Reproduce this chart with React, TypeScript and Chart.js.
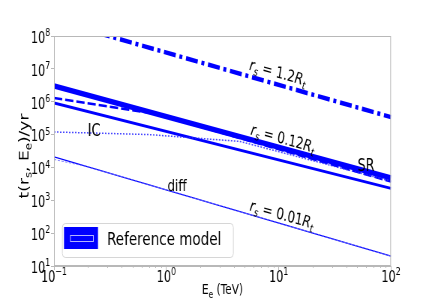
import React, { useEffect, useRef } from 'react';
import { Chart, registerables } from 'chart.js';

Chart.register(...registerables);

// ---------- data (energy in TeV, time in yr) ----------
const rs12Energy = [0.1, 100];
const rs12Time = [3.0e8, 3.4e5];

const srThickEnergy = [0.1, 100];
const srThickTime = [3.0e6, 4.8e3];

const dashedEnergy = [0.1, 0.8, 100];
const dashedTime = [1.3e6, 4.3e5, 3.7e3];

const lowerEnergy = [0.1, 100];
const lowerTime = [9.1e5, 2.3e3];

const icEnergy = [0.1, 0.7, 4.5, 100];
const icTime = [1.2e5, 1.0e5, 6.2e4, 3.8e3];

const diffEnergy = [0.1, 100];
const diffTime = [2.1e4, 20];

const diff2Energy = [0.1, 0.2, 100];
const diff2Time = [1.75e4, 1.05e4, 20];

const xTickValues = [0.1, 1, 10, 100];
const xTickExponents = ['−1', '0', '1', '2'];
const yTickValues = [1e1, 1e2, 1e3, 1e4, 1e5, 1e6, 1e7, 1e8];
const yTickExponents = ['1', '2', '3', '4', '5', '6', '7', '8'];

const legendLabel = 'Reference model';

// ---------- layout ----------
const SX = 0.75; // horizontal squeeze of the reference image
const W = 436;
const H = 300;
const CW = Math.round(W / SX);
const AREA_LEFT = 54 / SX;
const AREA_RIGHT = 391 / SX;
const AREA_TOP = 36;
const AREA_BOTTOM = 266;
const FRAME = '#b8b8b8';
const BLUE = '#0000ff';
const FONT = '"DejaVu Sans", sans-serif';

type Part = { t: string; sub?: boolean; sup?: boolean; it?: boolean };

function drawRich(
  ctx: CanvasRenderingContext2D,
  parts: Part[],
  x: number,
  y: number,
  size: number,
  rot = 0,
  align: 'center' | 'left' | 'right' = 'center'
) {
  ctx.save();
  ctx.translate(x, y);
  ctx.rotate(rot);
  const fontOf = (p: Part) =>
    `${p.it ? 'italic ' : ''}${p.sub || p.sup ? size * 0.7 : size}px ${FONT}`;
  const widths = parts.map((p) => {
    ctx.font = fontOf(p);
    return ctx.measureText(p.t).width;
  });
  const total = widths.reduce((a, b) => a + b, 0);
  let cx = align === 'center' ? -total / 2 : align === 'right' ? -total : 0;
  ctx.fillStyle = '#000';
  ctx.textBaseline = 'alphabetic';
  ctx.textAlign = 'left';
  parts.forEach((p, i) => {
    ctx.font = fontOf(p);
    const dy = p.sub ? size * 0.25 : p.sup ? -size * 0.45 : 0;
    ctx.fillText(p.t, cx, size * 0.36 + dy);
    cx += widths[i];
  });
  ctx.restore();
}

const pairs = (xs: number[], ys: number[]) => xs.map((x, i) => ({ x, y: ys[i] }));

const overlay = {
  id: 'overlay',
  afterDraw(chart: any) {
    const ctx: CanvasRenderingContext2D = chart.ctx;
    const { left, right, top, bottom } = chart.chartArea;
    const xs = chart.scales.x;
    const ys = chart.scales.y;
    // frame
    ctx.save();
    ctx.strokeStyle = FRAME;
    ctx.lineWidth = 1;
    ctx.strokeRect(left + 0.5, top + 0.5, right - left - 1, bottom - top - 1);
    // minor ticks on x axis
    for (let d = -1; d <= 1; d++) {
      for (let k = 2; k <= 9; k++) {
        const px = Math.round(xs.getPixelForValue(k * Math.pow(10, d))) + 0.5;
        ctx.beginPath();
        ctx.moveTo(px, bottom);
        ctx.lineTo(px, bottom + 2);
        ctx.stroke();
      }
    }
    ctx.restore();

    // tick labels (10 with superscript exponent), placed by the scales
    xs.ticks.forEach((tk: any, i: number) => {
      const px = xs.getPixelForValue(tk.value);
      drawRich(ctx, [{ t: '10' }, { t: xTickExponents[i], sup: true }], px, 276.5, 15);
    });
    ys.ticks.forEach((tk: any, i: number) => {
      const py = ys.getPixelForValue(tk.value);
      drawRich(ctx, [{ t: '10' }, { t: yTickExponents[i], sup: true }], left - 5, py + 1.5, 15, 0, 'right');
    });

    const rot = (12 * Math.PI) / 180;
    // curve annotations
    drawRich(ctx, [
      { t: 'r', it: true }, { t: 's', it: true, sub: true }, { t: ' = 1.2' }, { t: 'R', it: true }, { t: 't', it: true, sub: true },
    ], 278 / SX, 72, 16, rot);
    drawRich(ctx, [
      { t: 'r', it: true }, { t: 's', it: true, sub: true }, { t: ' = 0.12' }, { t: 'R', it: true }, { t: 't', it: true, sub: true },
    ], 283 / SX, 138, 16, rot);
    drawRich(ctx, [
      { t: 'r', it: true }, { t: 's', it: true, sub: true }, { t: ' = 0.01' }, { t: 'R', it: true }, { t: 't', it: true, sub: true },
    ], 282 / SX, 214, 16, rot);
    drawRich(ctx, [{ t: 'IC' }], 94 / SX, 130, 17);
    drawRich(ctx, [{ t: 'SR' }], 366 / SX, 165, 17);
    drawRich(ctx, [{ t: 'diff' }], 177 / SX, 185, 16);

    // axis titles
    drawRich(ctx, [{ t: 'E' }, { t: 'e', sub: true }, { t: ' (TeV)' }], (left + right) / 2, 289, 14);
    drawRich(ctx, [{ t: 't(r' }, { t: 's', sub: true }, { t: ', E' }, { t: 'e', sub: true }, { t: ')/yr' }], 24 / SX, 156, 17, -Math.PI / 2);

    // legend
    ctx.save();
    const lx = 62 / SX, ly = 223, lw = (233 - 62) / SX, lh = 34;
    ctx.beginPath();
    (ctx as any).roundRect(lx + 0.5, ly + 0.5, lw, lh, 4);
    ctx.fillStyle = 'rgba(255,255,255,0.8)';
    ctx.fill();
    ctx.strokeStyle = '#d6d6d6';
    ctx.lineWidth = 1;
    ctx.stroke();
    ctx.fillStyle = BLUE;
    ctx.fillRect(64 / SX, 227, 34 / SX, 22);
    ctx.strokeStyle = 'rgba(190,190,255,0.95)';
    ctx.lineWidth = 1;
    ctx.strokeRect(70 / SX + 0.5, 235.5, 23 / SX, 6);
    ctx.restore();
    drawRich(ctx, [{ t: legendLabel }], 107 / SX, 239, 18, 0, 'left');
  },
};

export default function App() {
  const ref = useRef<HTMLCanvasElement>(null);
  useEffect(() => {
    document.body.style.margin = '0';
    const line = (xs: number[], ys: number[], width: number, dash: number[], color = BLUE) => ({
      data: pairs(xs, ys),
      borderColor: color,
      backgroundColor: color,
      borderWidth: width,
      borderDash: dash,
      borderCapStyle: 'butt',
      pointRadius: 0,
      fill: false,
      tension: 0,
    });
    const chart = new Chart(ref.current as HTMLCanvasElement, {
      type: 'line',
      data: {
        datasets: [
          line(icEnergy, icTime, 1.5, [2, 2], 'rgba(40,40,255,0.85)'),
          line(diff2Energy, diff2Time, 1, [3, 2], 'rgba(110,110,255,0.9)'),
          line(diffEnergy, diffTime, 1.2, []),
          line(lowerEnergy, lowerTime, 3, []),
          line(dashedEnergy, dashedTime, 2.5, [11, 4]),
          line(srThickEnergy, srThickTime, 5.5, []),
          line(rs12Energy, rs12Time, 4.5, [16, 5, 4, 5]),
        ] as any,
      },
      options: {
        responsive: false,
        animation: false,
        devicePixelRatio: 1,
        layout: { padding: { left: 0, right: CW - AREA_RIGHT, top: AREA_TOP, bottom: 0 } },
        plugins: { legend: { display: false }, tooltip: { enabled: false } },
        scales: {
          x: {
            type: 'logarithmic',
            min: 0.1,
            max: 100,
            afterBuildTicks: (s: any) => {
              s.ticks = xTickValues.map((v) => ({ value: v, major: true }));
            },
            afterFit: (s: any) => {
              s.height = H - AREA_BOTTOM;
            },
            grid: { drawOnChartArea: false, drawTicks: true, tickLength: 4, color: FRAME },
            border: { color: FRAME },
            ticks: { display: false, autoSkip: false },
          },
          y: {
            type: 'logarithmic',
            min: 10,
            max: 1e8,
            afterBuildTicks: (s: any) => {
              s.ticks = yTickValues.map((v) => ({ value: v, major: true }));
            },
            afterFit: (s: any) => {
              s.width = AREA_LEFT;
            },
            grid: { drawOnChartArea: false, drawTicks: true, tickLength: 4, color: FRAME },
            border: { color: FRAME },
            ticks: { display: false, autoSkip: false },
          },
        },
      } as any,
      plugins: [overlay],
    });
    return () => chart.destroy();
  }, []);
  return (
    <div style={{ width: W, height: H, overflow: 'hidden', position: 'relative', background: '#fff' }}>
      <div style={{ width: CW, height: H, transform: `scaleX(${SX})`, transformOrigin: '0 0' }}>
        <canvas ref={ref} width={CW} height={H} style={{ display: 'block', width: CW, height: H }} />
      </div>
    </div>
  );
}
